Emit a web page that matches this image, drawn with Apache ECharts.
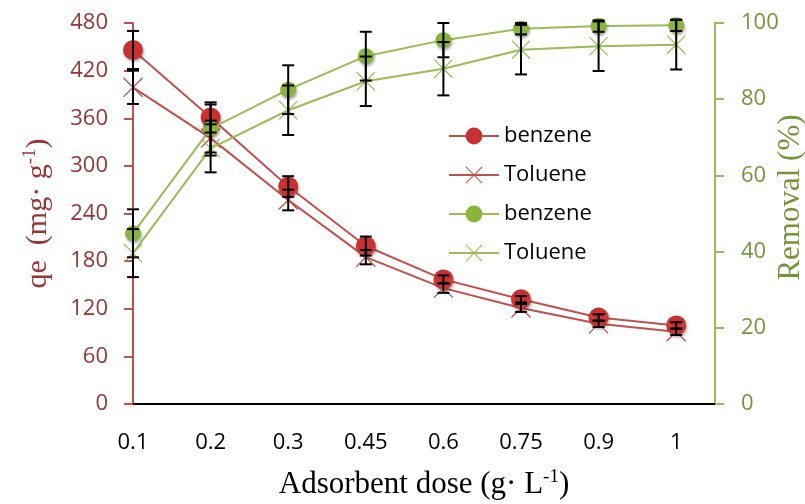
<!DOCTYPE html>
<html>
<head>
<meta charset="utf-8">
<script src="https://cdn.jsdelivr.net/npm/echarts@6/dist/echarts.min.js"></script>
<style>
html,body{margin:0;padding:0;background:#fff;}
#chart{width:805px;height:504px;}
</style>
</head>
<body>
<div id="chart"></div>
<script>
const categories = ['0.1', '0.2', '0.3', '0.45', '0.6', '0.75', '0.9', '1'];
const qeTicks = [0, 60, 120, 180, 240, 300, 360, 420, 480];
const removalTicks = [0, 20, 40, 60, 80, 100];

const benzeneQe = [446, 361, 274, 199, 157, 132, 109, 99];
const tolueneQe = [399, 335, 257, 185, 146, 121, 101, 91];
const benzeneRemoval = [44.8, 72.3, 82.5, 91.3, 95.5, 98.5, 99.2, 99.4];
const tolueneRemoval = [39.6, 67.1, 77.1, 84.7, 88.0, 93.0, 93.9, 94.3];

const benzeneQeErr = [24, 19, 13, 12, 5, 4, 4, 4];
const tolueneQeErr = [21, 22, 13, 9, 6, 5, 4, 4];
const benzeneRemovalErr = [6.3, 6.3, 6.4, 6.4, 4.5, 1.5, 1.5, 1.5];
const tolueneRemovalErr = [6.3, 6.3, 6.5, 6.5, 7.0, 6.5, 6.5, 6.5];

const RED = '#c0504d', RED_DOT = '#c8312f';
const GREEN = '#9bbb59', GREEN_DOT = '#8ab43a';
const CROSS = 'path://M0,0.9L0.9,0L20,19.1L19.1,20Z M19.1,0L20,0.9L0.9,20L0,19.1Z';

function pts(arr) { return arr.map((v, i) => [i, v]); }
function errPts(arr, err) { return arr.map((v, i) => [i, v, err[i]]); }

function errRender(params, api) {
  const x = api.value(0), y = api.value(1), e = api.value(2);
  const top = api.coord([x, y + e]);
  const bot = api.coord([x, y - e]);
  const h = 6;
  const st = {stroke: '#000', lineWidth: 2};
  return {type: 'group', children: [
    {type: 'line', shape: {x1: top[0], y1: top[1], x2: bot[0], y2: bot[1]}, style: st},
    {type: 'line', shape: {x1: top[0] - h, y1: top[1], x2: top[0] + h, y2: top[1]}, style: st},
    {type: 'line', shape: {x1: bot[0] - h, y1: bot[1], x2: bot[0] + h, y2: bot[1]}, style: st}
  ]};
}

const shadow = {shadowBlur: 3, shadowColor: 'rgba(0,0,0,0.35)', shadowOffsetX: 1, shadowOffsetY: 2};

const chart = echarts.init(document.getElementById('chart'), null, {renderer: 'canvas'});
chart.setOption({
  animation: false,
  backgroundColor: '#fff',
  grid: {left: 133, right: 90, top: 23, bottom: 100, containLabel: false, outerBoundsMode: 'none'},
  legend: {
    orient: 'vertical', left: 443, top: 120, itemGap: 17, itemWidth: 50, itemHeight: 21,
    textStyle: {fontFamily: 'Open Sans', fontSize: 22, color: '#000'},
    data: ['benzene', 'Toluene', 'benzene ', 'Toluene ']
  },
  xAxis: {
    type: 'value', min: 0, max: 7.5, interval: 1,
    axisLine: {show: true, lineStyle: {color: '#000', width: 2}},
    axisTick: {show: false}, splitLine: {show: false},
    axisLabel: {margin: 28, fontFamily: 'Open Sans', fontSize: 22, color: '#000', showMaxLabel: false,
      formatter: v => (categories[v] !== undefined ? categories[v] : '')},
    name: 'Adsorbent dose (g· L{sup|-1})', nameLocation: 'middle', nameGap: 64,
    nameTextStyle: {fontFamily: 'Liberation Serif', fontSize: 31, color: '#000',
      rich: {sup: {fontFamily: 'Liberation Serif', fontSize: 19, color: '#000', verticalAlign: 'top', padding: [0, 0, 15, 0]}}}
  },
  yAxis: [{
    type: 'value', min: 0, max: 480, interval: 60, position: 'left',
    axisLine: {show: true, lineStyle: {color: RED, width: 2}},
    axisTick: {show: true, length: 9, lineStyle: {color: RED, width: 2}},
    splitLine: {show: false},
    axisLabel: {margin: 25, fontFamily: 'Open Sans', fontSize: 22, color: '#953735'},
    name: 'qe  (mg· g{sup|-1})', nameLocation: 'middle', nameGap: 78, nameRotate: 90,
    nameTextStyle: {fontFamily: 'Liberation Serif', fontSize: 30, color: '#953735',
      rich: {sup: {fontFamily: 'Liberation Serif', fontSize: 19, color: '#953735', padding: [0, 0, 15, 0]}}}
  }, {
    type: 'value', min: 0, max: 100, interval: 20, position: 'right',
    axisLine: {show: true, lineStyle: {color: GREEN, width: 2}},
    axisTick: {show: true, length: 9, lineStyle: {color: GREEN, width: 2}},
    splitLine: {show: false},
    axisLabel: {margin: 26, fontFamily: 'Open Sans', fontSize: 22, color: '#77933c'},
    name: 'Removal (%)', nameLocation: 'middle', nameGap: 60, nameRotate: 90, nameMoveOverlap: false,
    nameTextStyle: {fontFamily: 'Liberation Serif', fontSize: 31, color: '#77933c', padding: [0, 0, 0, 32]}
  }],
  series: [
    {name: 'benzene', type: 'line', yAxisIndex: 0, data: pts(benzeneQe), z: 2,
      symbol: 'circle', symbolSize: 20, lineStyle: {color: RED, width: 2},
      itemStyle: Object.assign({color: RED_DOT}, shadow)},
    {name: 'Toluene', type: 'line', yAxisIndex: 0, data: pts(tolueneQe), z: 2,
      symbol: CROSS, symbolSize: 20, lineStyle: {color: RED, width: 2},
      itemStyle: {color: RED}},
    {name: 'benzene ', type: 'line', yAxisIndex: 1, data: pts(benzeneRemoval), z: 3,
      symbol: 'circle', symbolSize: 16, lineStyle: {color: GREEN, width: 2},
      itemStyle: Object.assign({color: GREEN_DOT}, shadow)},
    {name: 'Toluene ', type: 'line', yAxisIndex: 1, data: pts(tolueneRemoval), z: 3,
      symbol: CROSS, symbolSize: 19, lineStyle: {color: GREEN, width: 2},
      itemStyle: {color: GREEN}},
    {type: 'custom', yAxisIndex: 0, data: errPts(benzeneQe, benzeneQeErr), renderItem: errRender, z: 10, encode: {x: 0, y: 1}},
    {type: 'custom', yAxisIndex: 0, data: errPts(tolueneQe, tolueneQeErr), renderItem: errRender, z: 10, encode: {x: 0, y: 1}},
    {type: 'custom', yAxisIndex: 1, data: errPts(benzeneRemoval, benzeneRemovalErr), renderItem: errRender, z: 10, encode: {x: 0, y: 1}},
    {type: 'custom', yAxisIndex: 1, data: errPts(tolueneRemoval, tolueneRemovalErr), renderItem: errRender, z: 10, encode: {x: 0, y: 1}}
  ]
});
</script>
</body>
</html>
